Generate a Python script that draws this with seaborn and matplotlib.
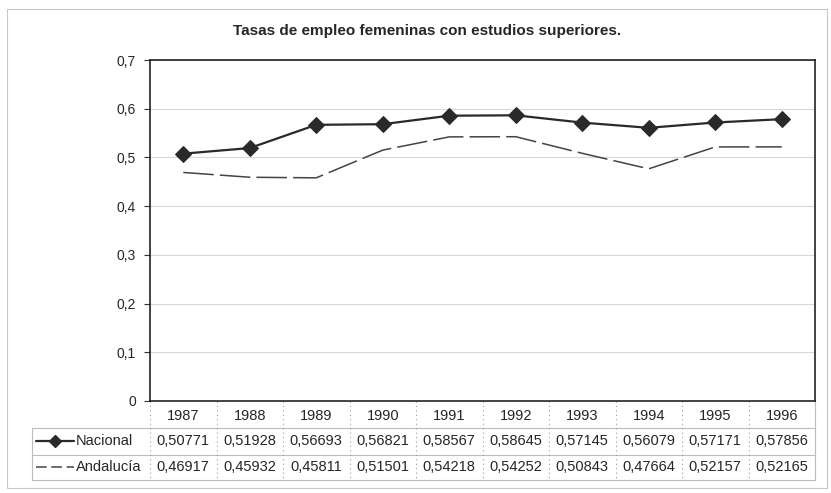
import numpy as np
import matplotlib
matplotlib.use("Agg")
import matplotlib.pyplot as plt
import matplotlib.transforms as mtransforms
from matplotlib.lines import Line2D
import seaborn as sns
import pandas as pd

years = [1987, 1988, 1989, 1990, 1991, 1992, 1993, 1994, 1995, 1996]
nacional = [0.50771, 0.51928, 0.56693, 0.56821, 0.58567, 0.58645, 0.57145, 0.56079, 0.57171, 0.57856]
andalucia = [0.46917, 0.45932, 0.45811, 0.51501, 0.54218, 0.54252, 0.50843, 0.47664, 0.52157, 0.52165]
series_names = ["Nacional", "Andalucía"]
y_ticks = [0, 0.1, 0.2, 0.3, 0.4, 0.5, 0.6, 0.7]
title = "Tasas de empleo femeninas con estudios superiores."

sns.set_style("white")
plt.rcParams["font.family"] = ["Liberation Sans", "DejaVu Sans"]

df = pd.DataFrame({"year": years, "Nacional": nacional, "Andalucía": andalucia})

fig = plt.figure(figsize=(8.31, 4.93), dpi=100)
ax = fig.add_axes([150 / 831, 1 - 401 / 493, 665 / 831, 341 / 493])

# outer chart frame
fig.patches.append(plt.Rectangle((7 / 831, 1 - 488 / 493), 820 / 831, 479 / 493,
                                 transform=fig.transFigure, fill=False,
                                 edgecolor="#c8c8c8", linewidth=0.8))

sns.lineplot(data=df, x="year", y="Nacional", ax=ax, color="#2a2a2a", linewidth=1.6,
             marker="D", markersize=8, markeredgecolor="#2a2a2a")
sns.lineplot(data=df, x="year", y="Andalucía", ax=ax, color="#444444", linewidth=1.1,
             dashes=False)
ax.lines[-1].set_dashes([20, 4])

ax.set_xlim(years[0] - 0.5, years[-1] + 0.5)
ax.set_ylim(0, 0.7)
ax.set_yticks(y_ticks)
ax.set_yticklabels([("%g" % v).replace(".", ",") for v in y_ticks], fontsize=10)
ax.tick_params(axis="y", length=4, width=0.8, color="#333333", pad=6, left=True)
ax.set_xticks([])
ax.set_xlabel("")
ax.set_ylabel("")
ax.yaxis.grid(True, color="#d8d8d8", linewidth=0.8)
ax.set_axisbelow(True)
for s in ax.spines.values():
    s.set_color("#222222")
    s.set_linewidth(1.2)

fig.text(427 / 831, 1 - 31 / 493, title, ha="center", va="center",
         fontsize=11, fontweight="bold")

# data table beneath the axes
trans = mtransforms.blended_transform_factory(ax.transData, ax.transAxes)
row_h = 0.079
row_lines = [-row_h, -2 * row_h, -0.232]
row_mid = [-row_h / 2 - 0.004, -1.5 * row_h, (-2 * row_h - 0.232) / 2]
key_left = -0.177
grid_c = "#bdbdbd"

for y in row_lines:
    ax.plot([key_left, 1], [y, y], transform=ax.transAxes, color=grid_c,
            linewidth=0.8, clip_on=False)
ax.plot([key_left, key_left], [row_lines[0], row_lines[-1]], transform=ax.transAxes,
        color=grid_c, linewidth=0.8, clip_on=False)
for b in np.arange(years[0] - 0.5, years[-1] + 1.0, 1.0):
    ax.plot([b, b], [0, row_lines[-1]], transform=trans, color="#9a9a9a",
            linewidth=0.8, linestyle=(0, (1, 3)), clip_on=False)
ax.plot([years[-1] + 0.5] * 2, [0, row_lines[-1]], transform=trans,
        color=grid_c, linewidth=0.8, clip_on=False)

for yr in years:
    ax.text(yr, row_mid[0], str(yr), transform=trans, ha="center", va="center", fontsize=10.5)
for vals, ym in [(nacional, row_mid[1]), (andalucia, row_mid[2])]:
    for yr, v in zip(years, vals):
        ax.text(yr, ym, ("%.5f" % v).replace(".", ","), transform=trans,
                ha="center", va="center", fontsize=10.5)

# legend keys in the first column
k0, k1 = key_left + 0.006, key_left + 0.063
ax.add_line(Line2D([k0, k1], [row_mid[1]] * 2, transform=ax.transAxes, color="#2a2a2a",
                   linewidth=1.6, clip_on=False))
ax.add_line(Line2D([(k0 + k1) / 2], [row_mid[1]], transform=ax.transAxes, marker="D",
                   markersize=6, color="#2a2a2a", clip_on=False))
ax.add_line(Line2D([k0, k1], [row_mid[2]] * 2, transform=ax.transAxes, color="#444444",
                   linewidth=1.1, dashes=[7, 3], clip_on=False))
for name, ym in zip(series_names, row_mid[1:]):
    ax.text(k1 + 0.002, ym, name, transform=ax.transAxes, ha="left", va="center", fontsize=10.5)

fig.savefig("out.png", dpi=100)
